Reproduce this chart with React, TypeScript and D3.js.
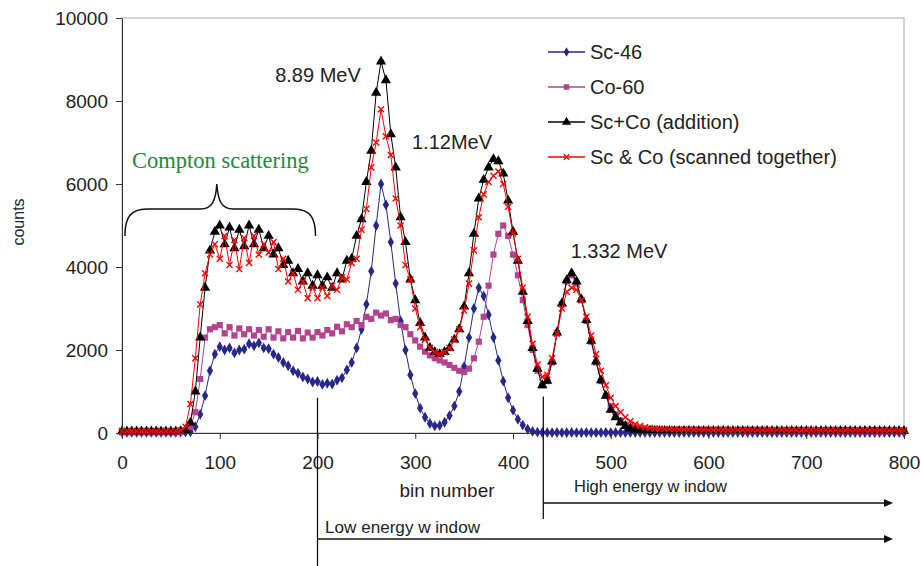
import { useEffect, useRef } from 'react';
import * as d3 from 'd3';

// bin numbers, one point every 5 bins
const bins = d3.range(0, 805, 5);

// counts, 10 values per row (row = 50 bins)
const sc46 = [
  15, 15, 15, 15, 15, 15, 15, 15, 15, 15,
  15, 15, 20, 25, 30, 150, 450, 900, 1500, 1900,
  2080, 2000, 2050, 1930, 2000, 2020, 2150, 2100, 2170, 2050,
  2030, 1900, 1820, 1700, 1620, 1500, 1440, 1350, 1300, 1230,
  1240, 1170, 1200, 1180, 1270, 1330, 1520, 1700, 2050, 2500,
  3100, 3900, 5000, 6000, 5500, 4600, 3600, 2700, 2000, 1400,
  950, 600, 380, 230, 170, 180, 260, 420, 650, 1000,
  1600, 2300, 3000, 3500, 3300, 2850, 2300, 1750, 1250, 850,
  550, 330, 190, 90, 40, 20, 12, 10, 10, 12,
  10, 10, 12, 10, 10, 12, 10, 10, 10, 12,
  10, 12, 10, 10, 12, 10, 10, 12, 10, 10,
  12, 10, 10, 10, 12, 10, 10, 12, 10, 10,
  10, 12, 10, 10, 12, 10, 10, 10, 12, 10,
  10, 10, 12, 10, 10, 12, 10, 10, 12, 10,
  12, 10, 10, 12, 10, 10, 10, 12, 10, 10,
  10, 12, 10, 10, 12, 10, 10, 12, 10, 10,
  10,
];

const co60 = [
  20, 20, 20, 20, 20, 20, 20, 20, 20, 20,
  20, 20, 25, 60, 150, 500, 1300, 2300, 2500, 2550,
  2600, 2400, 2550, 2350, 2520, 2380, 2500, 2350, 2480, 2320,
  2500, 2300, 2450, 2280, 2430, 2300, 2460, 2280, 2420, 2300,
  2430, 2350, 2480, 2400, 2560, 2450, 2620, 2550, 2700, 2600,
  2800, 2750, 2900, 2830, 2880, 2720, 2750, 2600, 2550, 2380,
  2230, 2080, 1960, 1870, 1800, 1750, 1700, 1640, 1570, 1500,
  1470, 1550, 1800, 2200, 2800, 3550, 4300, 4800, 5000, 4750,
  4300, 3800, 3200, 2600, 2000, 1500, 1150, 1250, 1700, 2400,
  3100, 3650, 3800, 3600, 3200, 2700, 2200, 1700, 1250, 900,
  650, 450, 300, 200, 140, 100, 80, 70, 65, 60,
  58, 56, 55, 54, 52, 52, 50, 50, 49, 48,
  48, 47, 47, 46, 46, 45, 45, 45, 44, 44,
  44, 43, 43, 43, 42, 42, 42, 42, 41, 41,
  41, 41, 40, 40, 40, 40, 40, 40, 40, 40,
  40, 40, 40, 40, 40, 40, 40, 40, 40, 40,
  40,
];

const scCoAdded = [
  40, 40, 40, 40, 40, 40, 40, 40, 40, 40,
  40, 40, 45, 70, 250, 1000, 2300, 3500, 4400, 4850,
  5000, 4550, 4950, 4450, 4900, 4500, 5000, 4550, 4900, 4450,
  4750, 4300, 4450, 4050, 4150, 3850, 3950, 3650, 3850, 3550,
  3800, 3550, 3750, 3500, 3850, 3700, 4150, 4200, 4750, 5150,
  6050, 6800, 8200, 8950, 8500, 7200, 6400, 5200, 4600, 3700,
  3200, 2650, 2300, 2050, 1950, 1900, 1950, 2050, 2250, 2500,
  3050, 3850, 4800, 5650, 6100, 6400, 6600, 6550, 6250, 5600,
  4850, 4150, 3400, 2700, 2050, 1550, 1150, 1260, 1720, 2420,
  3120, 3680, 3850, 3650, 3220, 2720, 2220, 1720, 1270, 900,
  560, 380, 250, 170, 110, 80, 65, 58, 55, 52,
  52, 50, 50, 50, 48, 48, 50, 48, 48, 50,
  48, 48, 50, 48, 48, 50, 48, 48, 50, 48,
  48, 50, 48, 48, 50, 48, 48, 50, 48, 48,
  50, 48, 48, 50, 48, 48, 50, 48, 48, 50,
  48, 48, 50, 48, 48, 50, 48, 48, 50, 48,
  50,
];

const scCoTogether = [
  45, 45, 45, 45, 45, 45, 45, 45, 45, 45,
  45, 50, 60, 150, 700, 1800, 3100, 3850, 4300, 4550,
  4200, 4750, 4050, 4650, 3950, 4700, 4100, 4750, 4300, 4550,
  4350, 4600, 3950, 4200, 3650, 3850, 3450, 3650, 3250, 3500,
  3250, 3500, 3300, 3550, 3450, 3750, 3700, 4100, 4200, 4900,
  5400, 6400, 7000, 7800, 7150, 6700, 5650, 5000, 4050, 3700,
  3000, 2550, 2250, 2050, 1950, 1900, 1950, 2050, 2250, 2500,
  2950, 3600, 4400, 5200, 5750, 6050, 6200, 6300, 6000, 5450,
  4800, 4200, 3500, 2800, 2150, 1650, 1350, 1400, 1800, 2400,
  3000, 3400, 3500, 3450, 3200, 2800, 2350, 1900, 1500, 1150,
  850, 650, 500, 380, 280, 210, 170, 140, 120, 110,
  100, 95, 90, 92, 85, 88, 82, 85, 80, 84,
  78, 82, 76, 80, 78, 74, 79, 75, 77, 72,
  76, 73, 75, 70, 74, 72, 70, 74, 71, 69,
  73, 70, 72, 68, 71, 69, 72, 68, 70, 67,
  71, 68, 70, 66, 69, 67, 70, 66, 68, 65,
  68,
];

const seriesNames = ['Sc-46', 'Co-60', 'Sc+Co (addition)', 'Sc & Co (scanned together)'];
const xTicks = [0, 100, 200, 300, 400, 500, 600, 700, 800];
const yTicks = [0, 2000, 4000, 6000, 8000, 10000];

const FONT = '"Liberation Sans", Arial, sans-serif';

export default function App() {
  const ref = useRef<SVGSVGElement>(null);

  useEffect(() => {
    document.body.style.margin = '0';
    const svg = d3.select(ref.current);
    svg.selectAll('*').remove();

    const x = d3.scaleLinear().domain([0, 800]).range([122, 904]);
    const y = d3.scaleLinear().domain([0, 10000]).range([433, 18]);

    // plot area border (light grey top / right)
    svg.append('rect')
      .attr('x', 122).attr('y', 18)
      .attr('width', 782).attr('height', 415)
      .attr('fill', 'none').attr('stroke', '#aaa').attr('stroke-width', 1);

    const series = [
      { name: seriesNames[0], values: sc46, color: '#27278a', symbol: d3.symbolDiamond, size: 34, stroke: false },
      { name: seriesNames[1], values: co60, color: '#b5428f', symbol: d3.symbolSquare, size: 38, stroke: false },
      { name: seriesNames[2], values: scCoAdded, color: '#000000', symbol: d3.symbolTriangle, size: 46, stroke: false },
      { name: seriesNames[3], values: scCoTogether, color: '#ff0000', symbol: d3.symbolX, size: 26, stroke: true },
    ];

    const line = d3.line<number>()
      .x((d, i) => x(bins[i]))
      .y(d => y(d));

    series.forEach(s => {
      const g = svg.append('g');
      g.append('path')
        .datum(s.values)
        .attr('fill', 'none')
        .attr('stroke', s.color)
        .attr('stroke-width', 1)
        .attr('d', line);

      g.selectAll('path.m')
        .data(s.values)
        .join('path')
        .attr('class', 'm')
        .attr('transform', (d, i) => `translate(${x(bins[i])},${y(d)})`)
        .attr('d', d3.symbol(s.symbol, s.size)())
        .attr('fill', s.stroke ? 'none' : s.color)
        .attr('stroke', s.stroke ? s.color : 'none')
        .attr('stroke-width', 1.4);
    });

    // axes
    const yAxis = svg.append('g')
      .attr('transform', 'translate(122,0)')
      .call(d3.axisLeft(y).tickValues(yTicks).tickSize(6).tickSizeOuter(0).tickPadding(8).tickFormat(d3.format('d')));
    const xAxis = svg.append('g')
      .attr('transform', 'translate(0,433)')
      .call(d3.axisBottom(x).tickValues(xTicks).tickSize(6).tickSizeOuter(0).tickPadding(17));
    [yAxis, xAxis].forEach(ax => {
      ax.selectAll('path, line').attr('stroke', '#333');
      ax.selectAll('text').attr('font-family', FONT).attr('font-size', 19).attr('fill', '#222');
    });

    // axis titles
    svg.append('text')
      .attr('transform', 'translate(24,222) rotate(-90)')
      .attr('text-anchor', 'middle')
      .attr('font-family', FONT).attr('font-size', 16).attr('fill', '#222')
      .text('counts');
    svg.append('text')
      .attr('x', 447).attr('y', 497)
      .attr('text-anchor', 'middle')
      .attr('font-family', FONT).attr('font-size', 19).attr('fill', '#222')
      .text('bin number');

    // legend
    series.forEach((s, i) => {
      const ly = 52 + i * 35;
      const lg = svg.append('g');
      lg.append('line')
        .attr('x1', 548).attr('x2', 585).attr('y1', ly).attr('y2', ly)
        .attr('stroke', s.color).attr('stroke-width', 1.3);
      lg.append('path')
        .attr('transform', `translate(566.5,${ly})`)
        .attr('d', d3.symbol(s.symbol, s.size * 0.8)())
        .attr('fill', s.stroke ? 'none' : s.color)
        .attr('stroke', s.stroke ? s.color : 'none')
        .attr('stroke-width', 1.3);
      lg.append('text')
        .attr('x', 590).attr('y', ly)
        .attr('dy', '0.35em')
        .attr('font-family', FONT).attr('font-size', 20).attr('fill', '#222')
        .text(s.name);
    });

    // peak labels
    const peakLabels = [
      { text: '8.89 MeV', x: 318, y: 82 },
      { text: '1.12MeV', x: 452, y: 149 },
      { text: '1.332 MeV', x: 619, y: 258 },
    ];
    peakLabels.forEach(p => {
      svg.append('text')
        .attr('x', p.x).attr('y', p.y)
        .attr('text-anchor', 'middle')
        .attr('font-family', FONT).attr('font-size', 20).attr('fill', '#222')
        .text(p.text);
    });

    // Compton brace + label
    svg.append('text')
      .attr('x', 132).attr('y', 168)
      .attr('font-family', '"Liberation Serif", "Times New Roman", serif')
      .attr('font-size', 22.5).attr('fill', '#23883a')
      .text('Compton scattering');

    const xs = x(3), xe = x(198), xm = x(97);
    const yb = y(4750), yh = y(5400), yt = y(6000);
    const brace = `M${xs},${yb} C${xs},${yh + 8} ${xs + 6},${yh} ${xs + 22},${yh}`
      + ` L${xm - 16},${yh} C${xm - 5},${yh} ${xm - 1},${yh - 8} ${xm},${yt}`
      + ` C${xm + 1},${yh - 8} ${xm + 5},${yh} ${xm + 16},${yh}`
      + ` L${xe - 22},${yh} C${xe - 6},${yh} ${xe},${yh + 8} ${xe},${yb}`;
    svg.append('path')
      .attr('d', brace)
      .attr('fill', 'none').attr('stroke', '#111').attr('stroke-width', 1.5);

    // energy windows
    const ann = svg.append('g').attr('stroke', '#111').attr('stroke-width', 1.3);
    const lowX = x(200), highX = x(431), arrowEnd = 893;
    ann.append('line').attr('x1', lowX).attr('x2', lowX).attr('y1', y(850)).attr('y2', 566);
    ann.append('line').attr('x1', highX).attr('x2', highX).attr('y1', y(880)).attr('y2', 519);
    ann.append('line').attr('x1', highX).attr('x2', arrowEnd - 6).attr('y1', 503).attr('y2', 503);
    ann.append('line').attr('x1', lowX).attr('x2', arrowEnd - 6).attr('y1', 539).attr('y2', 539);
    [503, 539].forEach(ay => {
      svg.append('path')
        .attr('d', `M${arrowEnd},${ay} L${arrowEnd - 9},${ay - 4} L${arrowEnd - 9},${ay + 4} Z`)
        .attr('fill', '#111');
    });
    svg.append('text')
      .attr('x', 574).attr('y', 492)
      .attr('font-family', FONT).attr('font-size', 16).attr('fill', '#222')
      .attr('textLength', 153).attr('lengthAdjust', 'spacingAndGlyphs')
      .text('High energy w indow');
    svg.append('text')
      .attr('x', 325).attr('y', 533)
      .attr('font-family', FONT).attr('font-size', 16).attr('fill', '#222')
      .attr('textLength', 155).attr('lengthAdjust', 'spacingAndGlyphs')
      .text('Low  energy w indow');
  }, []);

  return <svg ref={ref} width={921} height={566} style={{ display: 'block', background: '#fff' }} />;
}
